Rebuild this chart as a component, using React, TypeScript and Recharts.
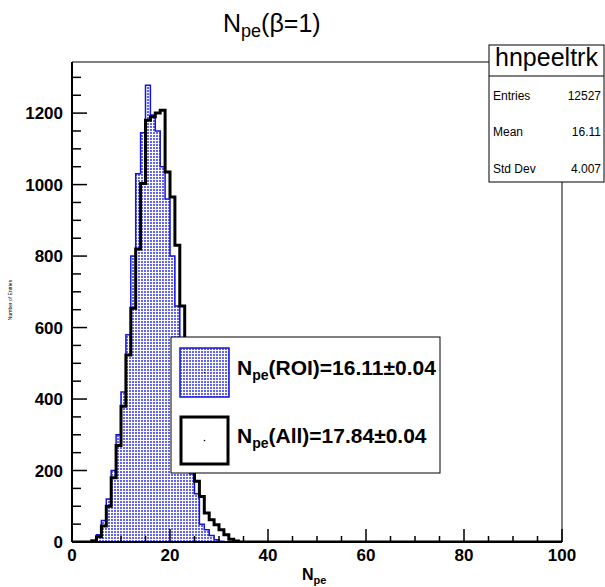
import React from 'react';
import { ComposedChart, Area, XAxis, YAxis, ReferenceLine } from 'recharts';

// ---- data (bin i covers [i, i+1)) ----
const roiBins = [0, 0, 0, 0, 5, 20, 60, 120, 200, 300, 420, 580, 800, 1030, 1145, 1278, 1195, 1150, 1050, 960, 800, 660, 520, 360, 190, 135, 50, 34, 18, 6, 2];
const allBins = [0, 0, 0, 0, 3, 15, 45, 100, 180, 270, 380, 523, 654, 820, 1003, 1180, 1190, 1200, 1208, 1035, 965, 830, 660, 450, 200, 170, 127, 81, 62, 48, 34, 20, 8, 3];
const binEdges = Array.from({ length: 101 }, (_, i) => i);

const xTicks = [0, 5, 10, 15, 20, 25, 30, 35, 40, 45, 50, 55, 60, 65, 70, 75, 80, 85, 90, 95, 100];
const xMajor = [0, 20, 40, 60, 80, 100];
const yTicks = [0, 50, 100, 150, 200, 250, 300, 350, 400, 450, 500, 550, 600, 650, 700, 750, 800, 850, 900, 950, 1000, 1050, 1100, 1150, 1200, 1250, 1300];
const yMajor = [0, 200, 400, 600, 800, 1000, 1200];
const xMin = 0;
const xMax = 100;
const yMax = 1343;

const statsTitle = 'hnpeeltrk';
const statsRows = [
  ['Entries', '12527'],
  ['Mean', '16.11'],
  ['Std Dev', '4.007'],
];
const legendRoi = '(ROI)=16.11\u00b10.04';
const legendAll = '(All)=17.84\u00b10.04';

const data = binEdges.map((x) => ({ x, roi: roiBins[x] ?? 0, all: allBins[x] ?? 0 }));

const FONT = '"Liberation Sans", Arial, Helvetica, sans-serif';

const XTick = (props: any) => {
  const { x, y, payload } = props;
  const v = payload.value;
  const major = xMajor.includes(v);
  return (
    <g>
      <line x1={x} x2={x} y1={y} y2={y - (major ? 13 : 6)} stroke="#000" strokeWidth={1.5} />
      {major && (
        <text x={x} y={y + 19} textAnchor="middle" fontFamily={FONT} fontWeight="bold" fontSize={17} fill="#000">
          {v}
        </text>
      )}
    </g>
  );
};

const YTick = (props: any) => {
  const { x, y, payload } = props;
  const v = payload.value;
  const major = yMajor.includes(v);
  return (
    <g>
      <line x1={x} x2={x + (major ? 15 : 9)} y1={y} y2={y} stroke="#000" strokeWidth={1.5} />
      {major && (
        <text x={x - 9} y={y + 6} textAnchor="end" fontFamily={FONT} fontWeight="bold" fontSize={17} fill="#000">
          {v}
        </text>
      )}
    </g>
  );
};

const DotPattern = ({ id }: { id: string }) => (
  <pattern id={id} width={3} height={3} patternUnits="userSpaceOnUse">
    <rect width={3} height={3} fill="#ffffff" />
    <rect x={0} y={0} width={2} height={2} fill="#6464f4" />
  </pattern>
);

export default function App() {
  return (
    <div style={{ position: 'absolute', left: 0, top: 0, width: 605, height: 587, background: '#fff' }}>
      <ComposedChart width={605} height={587} data={data} margin={{ top: 62, right: 43, left: 0, bottom: 0 }}>
        <defs>
          <DotPattern id="dots" />
        </defs>
        <XAxis
          dataKey="x"
          type="number"
          domain={[xMin, xMax]}
          ticks={xTicks}
          interval={0}
          height={45}
          tickSize={0}
          tickMargin={0}
          tick={<XTick />}
          axisLine={{ stroke: '#000', strokeWidth: 2 }}
          allowDataOverflow
        />
        <YAxis
          type="number"
          domain={[0, yMax]}
          ticks={yTicks}
          interval={0}
          width={72}
          tickSize={0}
          tickMargin={0}
          tick={<YTick />}
          axisLine={{ stroke: '#000', strokeWidth: 2 }}
          allowDataOverflow
        />
        <ReferenceLine y={yMax} stroke="#000" strokeWidth={1} />
        <ReferenceLine x={xMax} stroke="#000" strokeWidth={1} />
        <Area
          type="stepAfter"
          dataKey="roi"
          stroke="#1515d8"
          strokeWidth={1.5}
          fill="url(#dots)"
          fillOpacity={1}
          isAnimationActive={false}
          dot={false}
          activeDot={false}
        />
        <Area
          type="stepAfter"
          dataKey="all"
          stroke="#000"
          strokeWidth={3}
          fill="none"
          isAnimationActive={false}
          dot={false}
          activeDot={false}
        />
      </ComposedChart>

      <svg width={605} height={587} style={{ position: 'absolute', left: 0, top: 0, pointerEvents: 'none' }}>
        <defs>
          <DotPattern id="dots2" />
        </defs>
        {/* title */}
        <text x={223} y={32} fontFamily={FONT} fontSize={25} fill="#000">
          N
          <tspan fontSize={18} dy={5}>pe</tspan>
          <tspan dy={-5}>(β=1)</tspan>
        </text>

        {/* y axis title (tiny) */}
        <text
          x={0}
          y={0}
          transform="translate(12,300) rotate(-90)"
          textAnchor="middle"
          fontFamily={FONT}
          fontSize={5}
          fill="#000"
        >
          Number of Entries
        </text>

        {/* x axis title */}
        <text x={302} y={580} fontFamily={FONT} fontWeight="bold" fontSize={16} fill="#000">
          N
          <tspan fontSize={11} dy={4}>pe</tspan>
        </text>

        {/* stats box */}
        <rect x={489} y={45} width={115} height={137} fill="#fff" stroke="#000" strokeWidth={1} />
        <line x1={489} x2={604} y1={76} y2={76} stroke="#000" strokeWidth={1} />
        <text x={546.5} y={66} textAnchor="middle" fontFamily={FONT} fontSize={25} fill="#000">
          {statsTitle}
        </text>
        {statsRows.map((r, i) => (
          <g key={r[0]}>
            <text x={493} y={99.5 + i * 36.5} fontFamily={FONT} fontSize={12} fill="#000">
              {r[0]}
            </text>
            <text x={601} y={99.5 + i * 36.5} textAnchor="end" fontFamily={FONT} fontSize={12} fill="#000">
              {r[1]}
            </text>
          </g>
        ))}

        {/* legend */}
        <rect x={171} y={337} width={269} height={136} fill="#fff" stroke="#000" strokeWidth={1} />
        <rect x={180} y={348} width={49} height={49} fill="url(#dots2)" stroke="#1515d8" strokeWidth={1.5} />
        <circle cx={204.5} cy={372.5} r={0.8} fill="#000" />
        <text x={237} y={375} fontFamily={FONT} fontWeight="bold" fontSize={21} fill="#000">
          N
          <tspan fontSize={14} dy={5}>pe</tspan>
          <tspan dy={-5}>{legendRoi}</tspan>
        </text>
        <rect x={181} y={417} width={47} height={47} fill="#fff" stroke="#000" strokeWidth={3} />
        <circle cx={204.5} cy={440.5} r={0.8} fill="#000" />
        <text x={237} y={443} fontFamily={FONT} fontWeight="bold" fontSize={21} fill="#000">
          N
          <tspan fontSize={14} dy={5}>pe</tspan>
          <tspan dy={-5}>{legendAll}</tspan>
        </text>
      </svg>
    </div>
  );
}
